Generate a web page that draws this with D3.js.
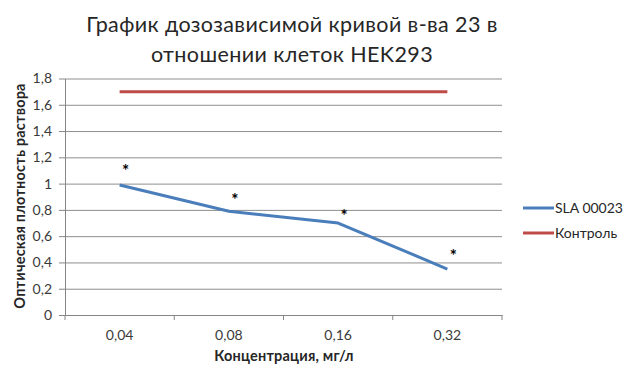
<!DOCTYPE html>
<html>
<head>
<meta charset="utf-8">
<script src="https://cdn.jsdelivr.net/npm/d3@7"></script>
<style>
    body { margin: 0; background: #fff; }
    text { font-family: Lato, "Open Sans", sans-serif; fill: #262626; }
    .grid line { stroke: #8e8e8e; stroke-width: 1; }
    .axis path, .axis line { stroke: #868686; }
    .axis text { font-size: 14px; fill: #3a3a3a; }
    .label { font-size: 14.5px; font-weight: bold; letter-spacing: 0.2px; }
    .title { font-size: 21.5px; letter-spacing: 0.4px; }
</style>
</head>
<body>
<svg width="624" height="367"></svg>
<script>
const concentrations = ['0,04', '0,08', '0,16', '0,32'];
const slaValues = [0.99, 0.79, 0.70, 0.35];
const controlValues = [1.70, 1.70, 1.70, 1.70];
// heights of the significance marks placed above the SLA curve
const asteriskLevels = [1.12, 0.895, 0.78, 0.47];
const yTicks = [0, 0.2, 0.4, 0.6, 0.8, 1, 1.2, 1.4, 1.6, 1.8];
const titleLines = ['График дозозависимой кривой в-ва 23 в', 'отношении  клеток HEK293'];
const seriesNames = ['SLA 00023', 'Контроль'];
const seriesColors = ['#4a7ebb', '#be4b48'];

const svg = d3.select('svg');

const plotLeft = 65;
const plotRight = 502;
const plotTop = 78.5;
const plotBottom = 315;

const xScale = d3.scaleBand()
    .range([plotLeft, plotRight])
    .domain(concentrations);

const yScale = d3.scaleLinear()
    .range([plotBottom, plotTop])
    .domain([0, 1.8]);

const fmt = (d) => String(d).replace('.', ',');

// grid lines
svg.append('g')
    .attr('class', 'grid')
    .attr('transform', `translate(${plotLeft}, 0)`)
    .call(d3.axisLeft(yScale)
        .tickValues(yTicks)
        .tickSize(-(plotRight - plotLeft))
        .tickFormat('')
    )
    .call((g) => g.select('.domain').remove());

svg.append('g')
    .attr('class', 'axis')
    .attr('transform', `translate(${plotLeft}, 0)`)
    .call(d3.axisLeft(yScale)
        .tickValues(yTicks)
        .tickSizeInner(6)
        .tickSizeOuter(0)
        .tickPadding(7)
        .tickFormat(fmt)
    );

const xAxis = svg.append('g')
    .attr('class', 'axis')
    .attr('transform', `translate(0, ${plotBottom})`)
    .call(d3.axisBottom(xScale)
        .tickSize(0)
        .tickPadding(15)
    );
xAxis.selectAll('.tick line').remove();

// tick marks between categories
const boundaries = concentrations.map((c) => xScale(c)).concat([plotRight]);
xAxis.selectAll('.sep')
    .data(boundaries)
    .enter()
    .append('line')
    .attr('class', 'sep')
    .attr('x1', (d) => d)
    .attr('x2', (d) => d)
    .attr('y1', 0)
    .attr('y2', 5)
    .attr('stroke', '#868686');

const cx = (d) => xScale(d) + xScale.bandwidth() / 2;

const line = d3.line()
    .x((d, i) => cx(concentrations[i]))
    .y((d) => yScale(d));

svg.append('path')
    .datum(controlValues)
    .attr('fill', 'none')
    .attr('stroke', seriesColors[1])
    .attr('stroke-width', 3)
    .attr('d', line);

svg.append('path')
    .datum(slaValues)
    .attr('fill', 'none')
    .attr('stroke', seriesColors[0])
    .attr('stroke-width', 3)
    .attr('stroke-linejoin', 'round')
    .attr('d', line);

svg.selectAll('.star')
    .data(asteriskLevels)
    .enter()
    .append('text')
    .attr('class', 'star')
    .attr('x', (d, i) => cx(concentrations[i]) + 6)
    .attr('y', (d) => yScale(d) + 9)
    .attr('text-anchor', 'middle')
    .style('font-size', '17px')
    .style('font-weight', 'bold')
    .style('fill', '#000')
    .text('*');

// legend
const legend = svg.selectAll('.legend')
    .data(seriesNames)
    .enter()
    .append('g')
    .attr('transform', (d, i) => `translate(523, ${208 + i * 25})`);

legend.append('line')
    .attr('x1', 0)
    .attr('x2', 31)
    .attr('stroke', (d, i) => seriesColors[i])
    .attr('stroke-width', 3);

legend.append('text')
    .attr('x', 32)
    .attr('y', 5)
    .style('font-size', '14px')
    .text((d) => d);

// titles
svg.selectAll('.title')
    .data(titleLines)
    .enter()
    .append('text')
    .attr('class', 'title')
    .attr('x', 292)
    .attr('y', (d, i) => 32 + i * 30)
    .attr('text-anchor', 'middle')
    .text((d) => d);

svg.append('text')
    .attr('class', 'label')
    .attr('x', -196)
    .attr('y', 25)
    .attr('transform', 'rotate(-90)')
    .attr('text-anchor', 'middle')
    .text('Оптическая плотность раствора');

svg.append('text')
    .attr('class', 'label')
    .attr('x', 284)
    .attr('y', 361)
    .attr('text-anchor', 'middle')
    .text('Концентрация, мг/л');
</script>
</body>
</html>
